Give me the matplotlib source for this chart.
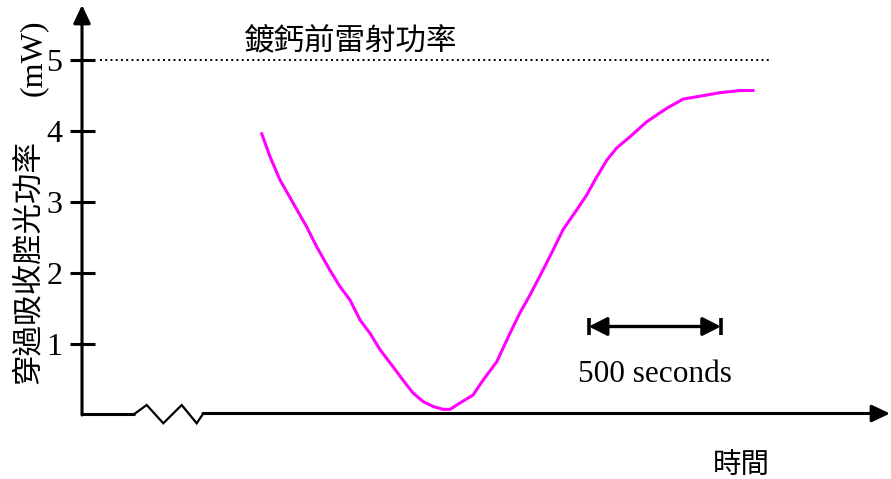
import matplotlib
matplotlib.use("Agg")
import matplotlib.pyplot as plt

plt.rcParams['font.family'] = ['Liberation Serif', 'DejaVu Serif']
CJK = ['Noto Sans CJK TC', 'DejaVu Sans']

# ---------------- data ----------------
time_s = [681, 712, 750, 799, 851, 889, 939, 977, 1015, 1053, 1091, 1129, 1178,
          1216, 1254, 1292, 1330, 1367, 1394, 1432, 1481, 1519, 1571, 1621, 1659,
          1697, 1746, 1784, 1822, 1874, 1912, 1943, 1988, 2025, 2076, 2139, 2215,
          2277, 2341, 2417, 2493, 2542]
power_mw = [3.96, 3.64, 3.31, 2.99, 2.65, 2.37, 2.04, 1.81, 1.62, 1.34, 1.15, 0.92,
            0.68, 0.49, 0.31, 0.19, 0.12, 0.08, 0.08, 0.17, 0.28, 0.49, 0.75, 1.15,
            1.44, 1.69, 2.04, 2.32, 2.61, 2.89, 3.10, 3.31, 3.59, 3.76, 3.92, 4.13,
            4.32, 4.45, 4.49, 4.54, 4.57, 4.57]
pre_coating_power = 5.0
yticks = [1, 2, 3, 4, 5]
ytick_labels = ['1', '2', '3', '4', '5']
scale_start_s = 1920
scale_len_s = 500

title_text = '鍍鈣前雷射功率'
ylabel_text = '穿過吸收腔光功率'
yunit_text = '(mW)'
xlabel_text = '時間'
scale_text = '500 seconds'

# ---------------- layout helpers (pixel -> data) ----------------
W, H = 891, 479
X0_PX, Y0_PX = 82, 415
PX_PER_S = 132 / 500
PX_PER_MW = 71


def px2x(px):
    return (px - X0_PX) / PX_PER_S


def py2y(py):
    return (Y0_PX - py) / PX_PER_MW


fig = plt.figure(figsize=(W / 100, H / 100), dpi=100)
ax = fig.add_axes([0, 0, 1, 1])
ax.set_xlim(px2x(0), px2x(W))
ax.set_ylim(py2y(H), py2y(0))
ax.patch.set_visible(False)
for s in ax.spines.values():
    s.set_visible(False)
ax.spines['left'].set_position(('data', 0))

# y ticks
ax.set_yticks(yticks)
ax.set_yticklabels(ytick_labels)
ax.set_xticks([])
ax.tick_params(axis='y', direction='inout', length=18, width=2.2, pad=5,
               labelsize=23, colors='black')

AX_LW = 2.2
head = 'head_length=0.55,head_width=0.26'

# y axis with arrow
ax.annotate('', xy=(0, py2y(5)), xytext=(0, py2y(415)),
            arrowprops=dict(arrowstyle='-|>,' + head, lw=AX_LW, color='black',
                            shrinkA=0, shrinkB=0, mutation_scale=20))

# x axis with break and arrow
y_ax = py2y(413.5)
ax.plot([px2x(80.9), px2x(135)], [y_ax, y_ax], color='black', lw=AX_LW,
        solid_capstyle='butt')
zz_x = [135, 146.7, 163.3, 181.7, 196.7, 203.3]
zz_y = [413.5, 405, 423.3, 405, 423.3, 413.5]
ax.plot([px2x(v) for v in zz_x], [py2y(v) for v in zz_y], color='black',
        lw=1.6, solid_joinstyle='miter')
ax.annotate('', xy=(px2x(890), y_ax), xytext=(px2x(203), y_ax),
            arrowprops=dict(arrowstyle='-|>,' + head, lw=AX_LW, color='black',
                            shrinkA=0, shrinkB=0, mutation_scale=20))

# reference dotted line (pre-coating laser power)
ax.plot([px2x(100), px2x(770)], [pre_coating_power, pre_coating_power],
        color='black', lw=1.4, dashes=(1, 1.7))

# transmitted power curve
ax.plot(time_s, power_mw, color='#FF00FF', lw=2.2)

# 500 s scale bar
yb = py2y(326.5)
ax.annotate('', xy=(scale_start_s, yb), xytext=(scale_start_s + scale_len_s, yb),
            arrowprops=dict(arrowstyle='<|-|>,head_length=0.55,head_width=0.28',
                            lw=2.4, color='black', shrinkA=0, shrinkB=0,
                            mutation_scale=20))
for xv in (scale_start_s, scale_start_s + scale_len_s):
    ax.plot([xv, xv], [py2y(318), py2y(335)], color='black', lw=2.6,
            solid_capstyle='butt')
ax.text(px2x(654.5), py2y(381.7), scale_text, ha='center', va='baseline',
        fontsize=22.5)

# texts
ax.text(px2x(350), py2y(41), title_text, ha='center', va='center', fontsize=22,
        family=CJK)
ax.text(px2x(28), py2y(262), ylabel_text, ha='center', va='center', rotation=90,
        fontsize=22, family=CJK)
ax.text(px2x(33), py2y(58), yunit_text, ha='center', va='center', rotation=90,
        fontsize=23)
ax.text(px2x(741.5), py2y(465), xlabel_text, ha='center', va='center',
        fontsize=20.5, family=CJK)

fig.savefig('out.png', dpi=100)
